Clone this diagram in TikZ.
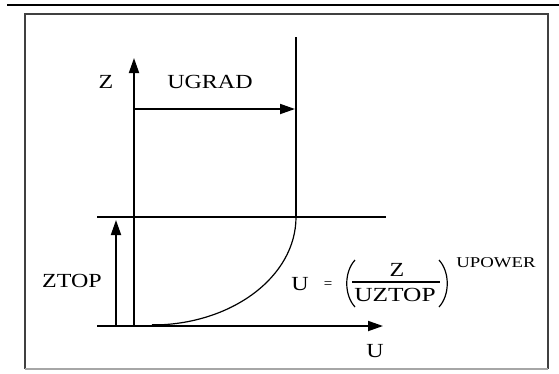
\documentclass[tikz,border=0pt]{standalone}
\usepackage{fontspec}
\usepackage{graphicx}
\setmainfont{Liberation Serif}
\usetikzlibrary{arrows.meta}
\newcommand\widetxt[2][1.2]{\scalebox{#1}[1]{#2}}
\begin{document}
\begin{tikzpicture}[x=1pt,y=-1pt,
  ln/.style={line width=1.8pt},
  arr/.style={ln,-{Triangle[length=15pt,width=10pt]}},
  thin/.style={line width=1.2pt},
  lbl/.style={inner sep=0pt, font=\fontsize{20}{20}\selectfont},
  small/.style={inner sep=0pt, font=\fontsize{15}{15}\selectfont}]
\useasboundingbox (0,0) rectangle (559,373);
\fill[white] (0,0) rectangle (559,373);
% top rule and frame
\coordinate (tl) at (7,5); \coordinate (tr) at (559,5);
\draw[line width=2pt] (tl) -- (tr);
\coordinate (f1) at (25,14); \coordinate (f2) at (548,14);
\coordinate (f3) at (548,369); \coordinate (f4) at (25,369);
\draw[line width=1.8pt, draw=black!75] (f4) -- (f1) -- (f2) -- (f3);
\draw[line width=1.2pt, draw=black!35] (f3) -- (f4);
% Z axis
\coordinate (zb) at (134,326); \coordinate (zt) at (134,58);
\draw[arr] (zb) -- (zt);
% UGRAD arrow
\coordinate (ga) at (134,109); \coordinate (gb) at (295,109);
\draw[arr] (ga) -- (gb);
% vertical profile line
\coordinate (vt) at (296,37); \coordinate (vb) at (296,217);
\draw[ln] (vt) -- (vb);
% ZTOP level line
\coordinate (h1a) at (97,217); \coordinate (h1b) at (386,217);
\draw[ln] (h1a) -- (h1b);
% U axis
\coordinate (h2a) at (97,326); \coordinate (h2b) at (383,326);
\draw[arr] (h2a) -- (h2b);
% ZTOP arrow
\coordinate (ta) at (116,326); \coordinate (tb) at (116,220);
\draw[arr] (ta) -- (tb);
% power-law curve
\coordinate (c0) at (152,325); \coordinate (c1) at (170,325);
\draw[thin] (vb) .. controls (296,277) and (231,325) .. (c0);
\draw[line width=2.4pt] (c0) -- (c1);
% labels
\node[lbl] (zl) at (106,82) {\widetxt{Z}};
\node[lbl] (ugrad) at (210,82) {\widetxt{UGRAD}};
\node[lbl] (ztop) at (72,281) {\widetxt{ZTOP}};
\node[lbl] (ul) at (375,351) {\widetxt{U}};
% formula
\node[lbl] (fu) at (300,284) {\widetxt{U}};
\node[small] (eq) at (328,285) {=};
\node[lbl] (num) at (397,270) {\widetxt{Z}};
\node[lbl] (den) at (395,295) {\widetxt[1.27]{UZTOP}};
\coordinate (b1) at (352,282); \coordinate (b2) at (440,282);
\draw[thin] (b1) -- (b2);
\coordinate (lp1) at (355,260); \coordinate (lp2) at (355,307);
\draw[thin] (lp1) .. controls (344,272) and (344,295) .. (lp2);
\coordinate (rp1) at (439,260); \coordinate (rp2) at (439,307);
\draw[thin] (rp1) .. controls (450,272) and (450,295) .. (rp2);
\node[small] (pow) at (496,263) {\widetxt[1.25]{UPOWER}};
\end{tikzpicture}
\end{document}
